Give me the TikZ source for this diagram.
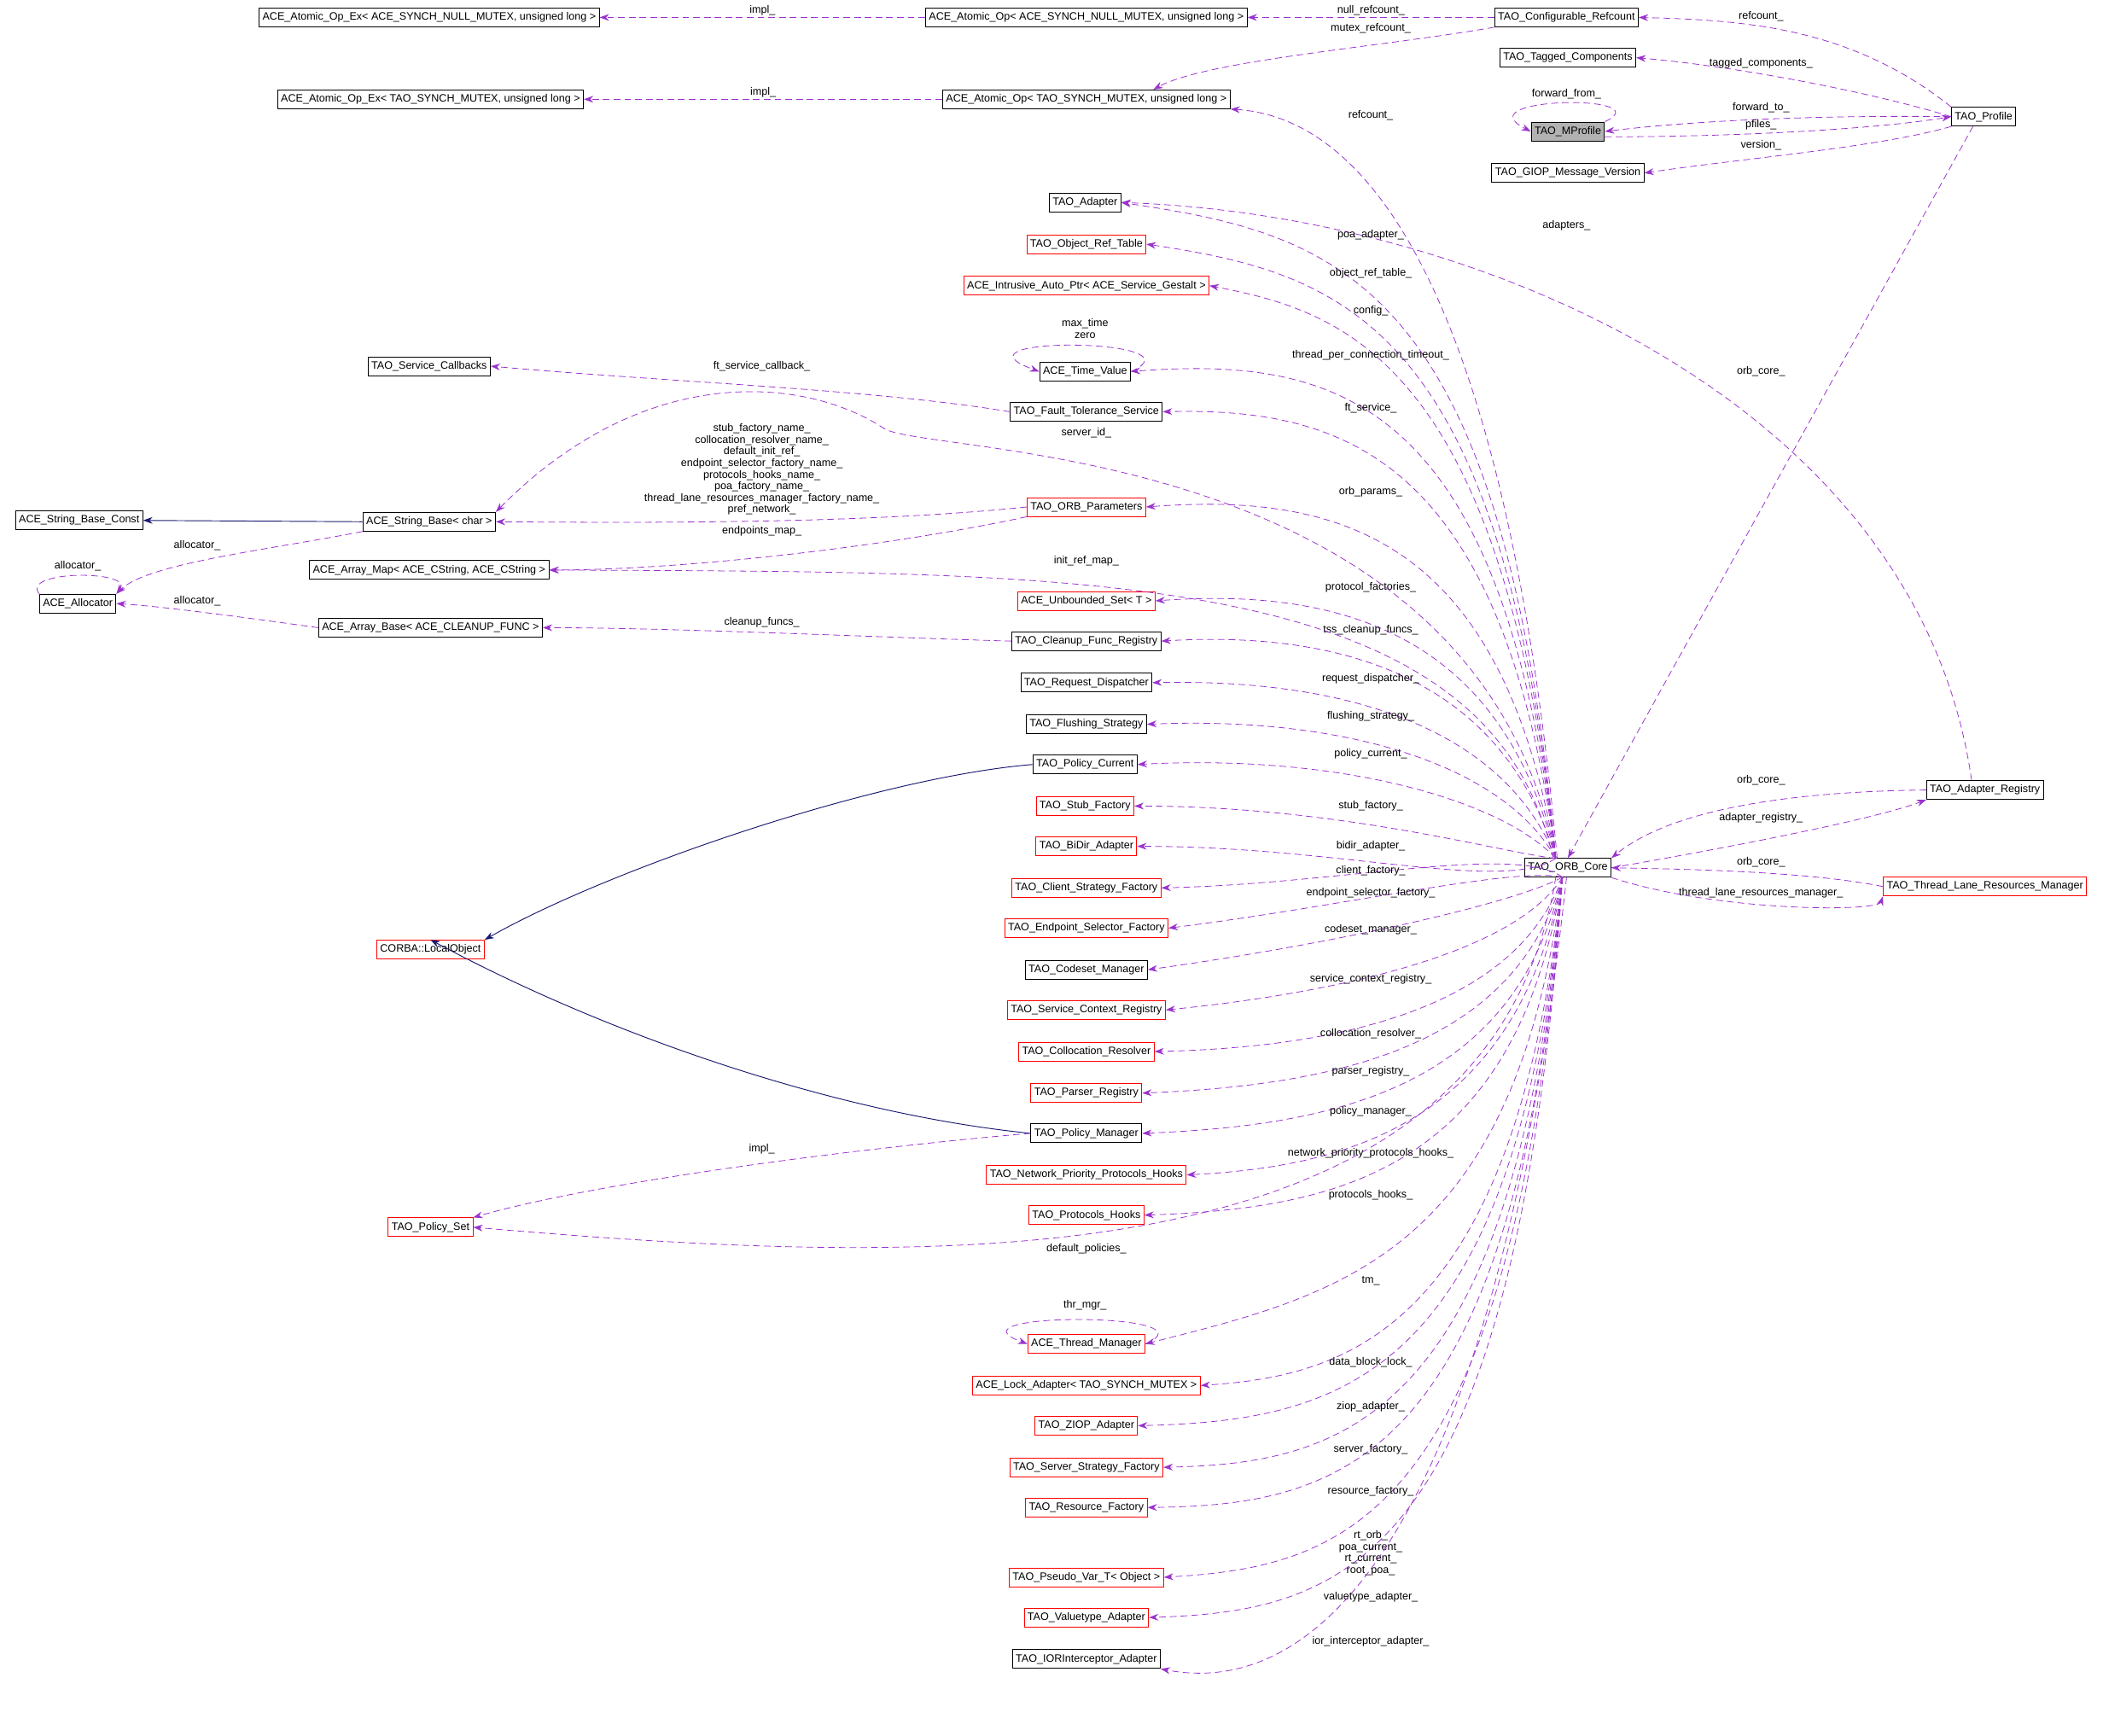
\documentclass[tikz,border=0pt]{standalone}
\usepackage{fontspec}
\setmainfont{Liberation Sans}
\usetikzlibrary{arrows.meta,calc}
\definecolor{dp}{HTML}{9A32CD}
\definecolor{nv}{HTML}{191970}
\begin{document}
\begin{tikzpicture}[x=1pt,y=-1pt,
 bx/.style={draw=black,line width=0.6pt,minimum height=14,inner sep=2.5pt,font=\fontsize{8}{9}\selectfont},
 rb/.style={bx,draw=red},
 lb/.style={font=\fontsize{8}{8.6}\selectfont,inner sep=0pt,align=center},
 dep/.style={draw=dp,line width=0.5pt,dash pattern=on 5pt off 3pt,-{Stealth[length=7pt,width=5pt]}},
 inh/.style={draw=nv,line width=0.6pt,-{Stealth[length=7pt,width=5pt]}}]
\fill[white] (0,0) rectangle (1568,1294);
\useasboundingbox (0,0) rectangle (1568,1294);
% nodes
\node[bx] (exn) at (320,13) {ACE\_Atomic\_Op\_Ex< ACE\_SYNCH\_NULL\_MUTEX, unsigned long >};
\node[bx] (opn) at (810,13) {ACE\_Atomic\_Op< ACE\_SYNCH\_NULL\_MUTEX, unsigned long >};
\node[bx] (cref) at (1168,13) {TAO\_Configurable\_Refcount};
\node[bx] (ext) at (321,74) {ACE\_Atomic\_Op\_Ex< TAO\_SYNCH\_MUTEX, unsigned long >};
\node[bx] (opt) at (810,74) {ACE\_Atomic\_Op< TAO\_SYNCH\_MUTEX, unsigned long >};
\node[bx] (tag) at (1169,43) {TAO\_Tagged\_Components};
\node[bx,fill=black!30] (mp) at (1169,98) {TAO\_MProfile};
\node[bx] (giop) at (1169,129) {TAO\_GIOP\_Message\_Version};
\node[bx] (prof) at (1479,87) {TAO\_Profile};
\node[bx] (adp) at (809,151) {TAO\_Adapter};
\node[rb] (ort) at (810,182) {TAO\_Object\_Ref\_Table};
\node[rb] (iap) at (810,213) {ACE\_Intrusive\_Auto\_Ptr< ACE\_Service\_Gestalt >};
\node[bx] (tv) at (809,277) {ACE\_Time\_Value};
\node[bx] (scb) at (320,273) {TAO\_Service\_Callbacks};
\node[bx] (fts) at (810,307) {TAO\_Fault\_Tolerance\_Service};
\node[bx] (sbc) at (59,388) {ACE\_String\_Base\_Const};
\node[bx] (sb) at (320,389) {ACE\_String\_Base< char >};
\node[rb] (op) at (810,378) {TAO\_ORB\_Parameters};
\node[bx] (al) at (58,450) {ACE\_Allocator};
\node[bx] (am) at (320,425) {ACE\_Array\_Map< ACE\_CString, ACE\_CString >};
\node[rb] (us) at (810,448) {ACE\_Unbounded\_Set< T >};
\node[bx] (ab) at (321,468) {ACE\_Array\_Base< ACE\_CLEANUP\_FUNC >};
\node[bx] (cfr) at (810,478) {TAO\_Cleanup\_Func\_Registry};
\node[bx] (rd) at (810,509) {TAO\_Request\_Dispatcher};
\node[bx] (fs) at (810,540) {TAO\_Flushing\_Strategy};
\node[bx] (pc) at (809,570) {TAO\_Policy\_Current};
\node[rb] (sf) at (809,601) {TAO\_Stub\_Factory};
\node[rb] (bd) at (810,631) {TAO\_BiDir\_Adapter};
\node[rb] (csf) at (810,662) {TAO\_Client\_Strategy\_Factory};
\node[rb] (esf) at (810,692) {TAO\_Endpoint\_Selector\_Factory};
\node[bx] (cm) at (810,723) {TAO\_Codeset\_Manager};
\node[rb] (scr) at (810,753) {TAO\_Service\_Context\_Registry};
\node[rb] (cr) at (810,784) {TAO\_Collocation\_Resolver};
\node[rb] (pr) at (810,815) {TAO\_Parser\_Registry};
\node[bx] (pm) at (810,845) {TAO\_Policy\_Manager};
\node[rb] (npph) at (810,876) {TAO\_Network\_Priority\_Protocols\_Hooks};
\node[rb] (ph) at (810,906) {TAO\_Protocols\_Hooks};
\node[rb] (lo) at (321,708) {CORBA::LocalObject};
\node[rb] (ps) at (321,915) {TAO\_Policy\_Set};
\node[rb] (tm) at (810,1002) {ACE\_Thread\_Manager};
\node[rb] (la) at (810,1033) {ACE\_Lock\_Adapter< TAO\_SYNCH\_MUTEX >};
\node[rb] (zi) at (810,1063) {TAO\_ZIOP\_Adapter};
\node[rb] (ssf) at (810,1094) {TAO\_Server\_Strategy\_Factory};
\node[rb] (rf) at (810,1124) {TAO\_Resource\_Factory};
\node[rb] (pv) at (810,1176) {TAO\_Pseudo\_Var\_T< Object >};
\node[rb] (va) at (810,1206) {TAO\_Valuetype\_Adapter};
\node[bx] (ior) at (810,1237) {TAO\_IORInterceptor\_Adapter};
\node[bx] (core) at (1169,647) {TAO\_ORB\_Core};
\node[bx] (ar) at (1480,589) {TAO\_Adapter\_Registry};
\node[rb] (tl) at (1480,661) {TAO\_Thread\_Lane\_Resources\_Manager};
% top edges
\draw[dep] (opn.west) -- (exn.east) node[lb,pos=0.5,above=1pt]{impl\_};
\draw[dep] (opt.west) -- (ext.east) node[lb,pos=0.5,above=1pt]{impl\_};
\draw[dep] (cref.west) -- (opn.east) node[lb,pos=0.5,above=1pt]{null\_refcount\_};
\draw[dep] (cref.south west) .. controls (1030,35) and (900,45) .. ($(opt.north)+(50,0)$);
\node[lb] at (1022,21) {mutex\_refcount\_};
\draw[dep] (prof.north west) .. controls (1380,20) and (1300,15) .. (cref.east);
\node[lb] at (1313,12) {refcount\_};
\draw[dep] (prof.west) .. controls (1400,70) and (1300,50) .. (tag.east);
\node[lb] at (1313,47) {tagged\_components\_};
\draw[dep] (mp.north east) .. controls (1240,70) and (1090,72) .. (mp.west);
\node[lb] at (1168,70) {forward\_from\_};
\draw[dep] (prof.west) .. controls (1380,86) and (1280,88) .. (mp.east);
\node[lb] at (1313,80) {forward\_to\_};
\draw[dep] (mp.east) ++(0,4) .. controls (1300,102) and (1400,96) .. (prof.west);
\node[lb] at (1313,93) {pfiles\_};
\draw[dep] (prof.south west) .. controls (1400,110) and (1300,118) .. (giop.east);
\node[lb] at (1313,108) {version\_};
\draw[dep] (prof.south) ++(-8,0) -- (core.north);
\node[lb] at (1313,277) {orb\_core\_};
\draw[dep] (ar.north) ++(-10,0) .. controls (1430,300) and (1100,160) .. (adp.east);
\node[lb] at (1168,168) {adapters\_};
\draw[dep] (core.north) ++(-8,0) .. controls (1130,300) and (1050,90) .. (opt.south east);
\node[lb] at (1022,86) {refcount\_};
% core fan above
\foreach \t/\ly in {adp/175,ort/204,iap/232,tv/265,fts/304,op/367,us/438,cfr/470,rd/506,fs/534,pc/562,sf/601,bd/631}{
 \draw[dep] (1160,640) .. controls (1120,\ly+35) and (1000,\ly) .. (\t.east);}
\node[lb] at (1022,175) {poa\_adapter\_};
\node[lb] at (1022,204) {object\_ref\_table\_};
\node[lb] at (1022,232) {config\_};
\node[lb] at (1022,265) {thread\_per\_connection\_timeout\_};
\node[lb] at (1022,304) {ft\_service\_};
\node[lb] at (1022,367) {orb\_params\_};
\node[lb] at (1022,438) {protocol\_factories\_};
\node[lb] at (1022,470) {tss\_cleanup\_funcs\_};
\node[lb] at (1022,506) {request\_dispatcher\_};
\node[lb] at (1022,534) {flushing\_strategy\_};
\node[lb] at (1022,562) {policy\_current\_};
\node[lb] at (1022,601) {stub\_factory\_};
\node[lb] at (1022,631) {bidir\_adapter\_};
% core fan below
\foreach \t/\ly in {csf/649,esf/666,cm/693,scr/730,cr/771,pr/799,pm/829,npph/860,ph/891,tm/955,la/1016,zi/1049,ssf/1081,rf/1112,pv/1158,va/1191}{
 \draw[dep] (1165,654) .. controls (1130,\ly-20) and (1000,\ly+10) .. (\t.east);}
\node[lb] at (1022,649) {client\_factory\_};
\node[lb] at (1022,666) {endpoint\_selector\_factory\_};
\node[lb] at (1022,693) {codeset\_manager\_};
\node[lb] at (1022,730) {service\_context\_registry\_};
\node[lb] at (1022,771) {collocation\_resolver\_};
\node[lb] at (1022,799) {parser\_registry\_};
\node[lb] at (1022,829) {policy\_manager\_};
\node[lb] at (1022,860) {network\_priority\_protocols\_hooks\_};
\node[lb] at (1022,891) {protocols\_hooks\_};
\node[lb] at (1022,955) {tm\_};
\node[lb] at (1022,1016) {data\_block\_lock\_};
\node[lb] at (1022,1049) {ziop\_adapter\_};
\node[lb] at (1022,1081) {server\_factory\_};
\node[lb] at (1022,1112) {resource\_factory\_};
\node[lb] at (1022,1158) {rt\_orb\_\\poa\_current\_\\rt\_current\_\\root\_poa\_};
\node[lb] at (1022,1191) {valuetype\_adapter\_};
\draw[dep] (1168,654) .. controls (1120,1100) and (1000,1270) .. (ior.south east);
\node[lb] at (1022,1224) {ior\_interceptor\_adapter\_};
\draw[dep] (1160,654) .. controls (1110,960) and (700,945) .. (ps.east);
\node[lb] at (810,931) {default\_policies\_};
\draw[dep] (1160,640) .. controls (1100,330) and (700,340) .. (660,320) .. controls (600,280) and (480,270) .. (sb.north east);
\node[lb] at (810,323) {server\_id\_};
\draw[dep] (1158,640) .. controls (1110,420) and (800,427) .. (am.east);
\node[lb] at (810,418) {init\_ref\_map\_};
% other left edges
\draw[dep] (fts.west) .. controls (650,290) and (500,285) .. (scb.east);
\node[lb] at (568,273) {ft\_service\_callback\_};
\draw[dep] (op.west) .. controls (650,390) and (500,390) .. (sb.east);
\node[lb] at (568,350) {stub\_factory\_name\_\\collocation\_resolver\_name\_\\default\_init\_ref\_\\endpoint\_selector\_factory\_name\_\\protocols\_hooks\_name\_\\poa\_factory\_name\_\\thread\_lane\_resources\_manager\_factory\_name\_\\pref\_network\_};
\draw[dep] (op.south west) .. controls (650,410) and (500,425) .. (am.east);
\node[lb] at (568,396) {endpoints\_map\_};
\draw[inh] (sb.west) -- (sbc.east);
\draw[dep] (sb.south west) .. controls (200,410) and (110,420) .. (al.north east);
\node[lb] at (147,407) {allocator\_};
\draw[dep] (al.north west) .. controls (15,425) and (100,425) .. (al.north east);
\node[lb] at (58,422) {allocator\_};
\draw[dep] (ab.west) .. controls (180,460) and (120,452) .. (al.east);
\node[lb] at (147,448) {allocator\_};
\draw[dep] (cfr.west) .. controls (650,475) and (500,468) .. (ab.east);
\node[lb] at (568,464) {cleanup\_funcs\_};
\draw[dep] (tv.east) .. controls (900,252) and (700,250) .. (tv.west);
\node[lb] at (809,245) {max\_time\\zero};
\draw[dep] (tm.east) .. controls (910,978) and (700,978) .. (tm.west);
\node[lb] at (809,973) {thr\_mgr\_};
\draw[inh] (pc.west) .. controls (650,580) and (450,650) .. (lo.north east);
\draw[inh] (pm.west) .. controls (620,830) and (450,770) .. (lo.north);
\draw[dep] (pm.west) .. controls (650,855) and (450,880) .. (ps.north east);
\node[lb] at (568,857) {impl\_};
% right side
\draw[dep] (ar.west) .. controls (1350,590) and (1250,600) .. (core.north east);
\node[lb] at (1313,582) {orb\_core\_};
\draw[dep] (core.east) .. controls (1300,630) and (1400,610) .. (ar.south west);
\node[lb] at (1313,610) {adapter\_registry\_};
\draw[dep] (tl.west) .. controls (1350,650) and (1260,648) .. (core.east);
\node[lb] at (1313,643) {orb\_core\_};
\draw[dep] (core.south east) .. controls (1280,680) and (1400,680) .. (tl.south west);
\node[lb] at (1313,666) {thread\_lane\_resources\_manager\_};
\end{tikzpicture}
\end{document}
